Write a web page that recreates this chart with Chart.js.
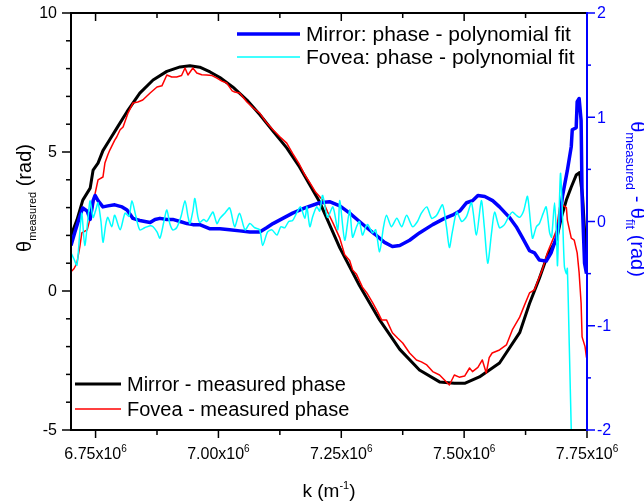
<!DOCTYPE html>
<html>
<head>
<meta charset="utf-8">
<script src="https://cdn.jsdelivr.net/npm/chart.js@4.4.0/dist/chart.umd.min.js"></script>
<style>
  html, body { margin: 0; padding: 0; background: #fff; }
  #wrap { width: 644px; height: 502px; position: relative; }
</style>
</head>
<body>
<div id="wrap"><canvas id="phaseChart" width="644" height="502"></canvas></div>
<script>
// k values in units of 10^6 m^-1
const kMirror = [6.700, 6.712, 6.724, 6.739, 6.745, 6.755, 6.765, 6.779, 6.793, 6.814, 6.840, 6.867, 6.895, 6.922, 6.942, 6.962, 6.983, 7.003, 7.029, 7.058, 7.084, 7.111, 7.139, 7.165, 7.206, 7.247, 7.287, 7.328, 7.369, 7.409, 7.450, 7.480, 7.501, 7.531, 7.572, 7.613, 7.633, 7.653, 7.670, 7.688, 7.698, 7.708, 7.718, 7.728, 7.735, 7.741, 7.745, 7.749];
const mirrorMeasured = [2.0, 2.55, 3.27, 3.7, 4.35, 4.6, 5.05, 5.45, 5.85, 6.45, 7.12, 7.59, 7.9, 8.06, 8.1, 8.05, 7.88, 7.68, 7.34, 6.87, 6.35, 5.75, 5.15, 4.46, 3.2, 1.55, 0.2, -1.04, -2.1, -2.84, -3.27, -3.32, -3.32, -3.09, -2.59, -1.5, -0.45, 0.45, 1.3, 1.85, 2.66, 3.27, 3.74, 4.17, 4.26, 3.4, 2.2, 1.0];

const kFovea = [6.700, 6.706, 6.712, 6.718, 6.722, 6.733, 6.743, 6.749, 6.755, 6.765, 6.769, 6.775, 6.779, 6.789, 6.793, 6.800, 6.806, 6.816, 6.826, 6.836, 6.846, 6.861, 6.875, 6.885, 6.895, 6.905, 6.915, 6.925, 6.932, 6.938, 6.948, 6.956, 6.966, 6.976, 6.987, 6.997, 7.007, 7.017, 7.028, 7.033, 7.043, 7.058, 7.070, 7.084, 7.098, 7.111, 7.125, 7.139, 7.151, 7.165, 7.175, 7.186, 7.198, 7.212, 7.222, 7.233, 7.247, 7.257, 7.267, 7.273, 7.281, 7.293, 7.302, 7.314, 7.324, 7.332, 7.342, 7.354, 7.365, 7.375, 7.389, 7.403, 7.413, 7.424, 7.436, 7.450, 7.460, 7.470, 7.480, 7.490, 7.501, 7.511, 7.517, 7.528, 7.537, 7.545, 7.551, 7.557, 7.572, 7.586, 7.598, 7.613, 7.623, 7.633, 7.643, 7.653, 7.659, 7.670, 7.680, 7.688, 7.694, 7.700, 7.708, 7.710, 7.718, 7.724, 7.730, 7.734, 7.738, 7.740, 7.746, 7.749];
const foveaMeasured = [0.69, 0.8, 1.0, 1.6, 2.09, 2.2, 2.9, 3.5, 4.0, 4.1, 4.6, 4.9, 5.07, 5.43, 5.54, 5.8, 5.9, 6.4, 6.76, 6.8, 6.87, 7.12, 7.34, 7.38, 7.77, 7.7, 7.7, 7.75, 8.02, 7.77, 8.02, 7.84, 7.78, 7.77, 7.75, 7.66, 7.55, 7.48, 7.2, 7.16, 7.12, 6.8, 6.6, 6.4, 6.05, 5.8, 5.55, 5.32, 4.95, 4.55, 4.2, 3.9, 3.55, 3.27, 2.85, 2.45, 1.9, 1.3, 1.1, 0.76, 0.6, 0.14, -0.07, -0.43, -0.75, -1.04, -1.04, -1.5, -1.7, -1.87, -2.23, -2.48, -2.55, -2.66, -2.9, -3.02, -3.2, -3.38, -3.02, -3.1, -3.06, -2.77, -2.9, -2.75, -2.48, -2.95, -2.4, -2.23, -2.12, -1.94, -1.4, -0.94, -0.5, -0.07, 0.04, 0.5, 0.76, 1.4, 1.83, 2.19, 3.0, 3.1, 3.0, 2.55, 1.9, 1.83, 1.37, 0.65, -0.43, -1.65, -2.0, -2.4];

const kMirrorFit = [6.700, 6.708, 6.718, 6.724, 6.733, 6.739, 6.745, 6.749, 6.755, 6.765, 6.775, 6.789, 6.804, 6.814, 6.826, 6.840, 6.861, 6.871, 6.881, 6.895, 6.907, 6.922, 6.936, 6.948, 6.962, 6.983, 7.003, 7.023, 7.043, 7.064, 7.084, 7.098, 7.111, 7.131, 7.151, 7.176, 7.206, 7.226, 7.247, 7.267, 7.287, 7.302, 7.318, 7.338, 7.354, 7.369, 7.389, 7.409, 7.436, 7.460, 7.476, 7.491, 7.505, 7.517, 7.528, 7.542, 7.558, 7.572, 7.592, 7.606, 7.618, 7.633, 7.643, 7.653, 7.667, 7.677, 7.688, 7.694, 7.700, 7.710, 7.718, 7.720, 7.728, 7.730, 7.734, 7.738, 7.740, 7.745, 7.749];
const mirrorResidual = [-0.23, -0.1, 0.05, 0.13, 0.1, 0.02, 0.2, 0.25, 0.2, 0.14, 0.15, 0.16, 0.14, 0.11, 0.03, 0.01, -0.01, 0.02, 0.03, 0.02, 0.02, 0.0, -0.02, -0.03, -0.03, -0.07, -0.07, -0.08, -0.09, -0.1, -0.1, -0.06, -0.02, 0.03, 0.08, 0.13, 0.18, 0.19, 0.15, 0.08, 0.0, -0.06, -0.12, -0.2, -0.24, -0.23, -0.18, -0.11, -0.03, 0.03, 0.06, 0.1, 0.18, 0.2, 0.25, 0.24, 0.2, 0.14, 0.04, -0.05, -0.15, -0.28, -0.3, -0.37, -0.38, -0.3, -0.15, 0.0, 0.24, 0.49, 0.72, 0.88, 0.9, 1.15, 1.18, 0.97, 0.24, -0.4, -0.5];

const kFoveaFit = [6.700, 6.706, 6.712, 6.718, 6.722, 6.728, 6.735, 6.739, 6.745, 6.751, 6.755, 6.761, 6.765, 6.771, 6.775, 6.783, 6.789, 6.800, 6.810, 6.818, 6.824, 6.832, 6.840, 6.850, 6.861, 6.867, 6.875, 6.881, 6.889, 6.895, 6.901, 6.907, 6.915, 6.924, 6.932, 6.938, 6.942, 6.948, 6.952, 6.958, 6.962, 6.970, 6.976, 6.983, 6.989, 6.997, 7.003, 7.013, 7.023, 7.033, 7.043, 7.054, 7.064, 7.074, 7.084, 7.090, 7.100, 7.109, 7.119, 7.127, 7.135, 7.143, 7.151, 7.159, 7.167, 7.176, 7.180, 7.186, 7.192, 7.200, 7.206, 7.212, 7.222, 7.233, 7.243, 7.247, 7.257, 7.267, 7.273, 7.281, 7.287, 7.293, 7.300, 7.304, 7.314, 7.320, 7.328, 7.336, 7.342, 7.352, 7.363, 7.373, 7.383, 7.395, 7.405, 7.413, 7.424, 7.434, 7.444, 7.456, 7.464, 7.470, 7.476, 7.485, 7.495, 7.505, 7.515, 7.525, 7.535, 7.541, 7.548, 7.556, 7.562, 7.572, 7.582, 7.590, 7.598, 7.606, 7.613, 7.621, 7.629, 7.639, 7.647, 7.653, 7.661, 7.667, 7.674, 7.678, 7.684, 7.688, 7.690, 7.696, 7.700, 7.704, 7.708, 7.710, 7.714, 7.718, 7.720];
const foveaResidual = [-0.3, -0.36, -0.42, -0.1, 0.08, -0.23, 0.05, 0.2, 0.04, 0.12, 0.18, 0.0, -0.2, -0.02, 0.04, -0.05, 0.06, -0.08, 0.08, 0.05, 0.2, 0.05, -0.08, -0.06, -0.04, -0.05, -0.1, -0.16, 0.0, 0.11, -0.02, -0.08, -0.06, 0.05, 0.2, 0.05, -0.02, 0.1, 0.22, 0.05, -0.01, 0.02, 0.0, 0.05, 0.09, -0.02, 0.03, 0.08, 0.13, -0.05, 0.08, -0.08, -0.02, -0.06, -0.08, -0.23, -0.1, -0.08, -0.13, -0.05, -0.06, 0.0, 0.01, 0.08, 0.14, 0.03, 0.14, -0.05, 0.05, 0.14, 0.1, 0.25, 0.04, 0.14, -0.08, 0.2, -0.18, 0.11, -0.15, -0.05, 0.0, -0.13, -0.05, -0.03, -0.11, -0.08, -0.29, -0.05, 0.06, -0.05, 0.03, -0.05, 0.06, -0.05, 0.0, 0.08, 0.14, 0.03, 0.06, 0.16, -0.05, -0.25, -0.1, 0.09, 0.0, 0.05, 0.18, -0.13, 0.2, -0.05, -0.4, -0.1, 0.09, -0.06, -0.03, 0.04, 0.09, 0.06, 0.04, 0.1, 0.24, -0.16, -0.05, -0.02, 0.08, 0.14, -0.11, -0.15, 0.18, -0.15, -0.42, 0.46, 0.08, -0.43, -0.5, -0.45, -1.2, -2.0, -2.3];

const xTicks = [6.75, 7.00, 7.25, 7.50, 7.75];
const xTickLabels = ['6.75x10', '7.00x10', '7.25x10', '7.50x10', '7.75x10'];
const xMinorTicks = [6.875, 7.125, 7.375, 7.625];
const leftTicks = [-5, 0, 5, 10];
const rightTicks = [-2, -1, 0, 1, 2];
const rightMinorTicks = [-1.5, -0.5, 0.5, 1.5];

const FONT = '"Liberation Sans", Arial, sans-serif';

function pts(xs, ys) {
  return xs.map((x, i) => ({ x: x, y: ys[i] }));
}

function richWidth(ctx, parts) {
  let w = 0;
  parts.forEach(p => { ctx.font = p.size + 'px ' + FONT; w += ctx.measureText(p.t).width; });
  return w;
}

// draws text pieces along local x, with dy shifts for sub/superscript
function drawRich(ctx, parts, x, y, align) {
  let w = richWidth(ctx, parts);
  let cx = align === 'center' ? x - w / 2 : (align === 'right' ? x - w : x);
  ctx.textAlign = 'left';
  ctx.textBaseline = 'alphabetic';
  parts.forEach(p => {
    ctx.font = p.size + 'px ' + FONT;
    ctx.fillText(p.t, cx, y + (p.dy || 0));
    cx += ctx.measureText(p.t).width;
  });
}

function seg(ctx, x1, y1, x2, y2) {
  ctx.beginPath(); ctx.moveTo(x1, y1); ctx.lineTo(x2, y2); ctx.stroke();
}

const originAxes = {
  id: 'originAxes',
  afterDraw(chart) {
    const ctx = chart.ctx, a = chart.chartArea;
    const sx = chart.scales.x, sy = chart.scales.y, sr = chart.scales.y2;
    ctx.save();
    ctx.lineCap = 'butt';

    // black frame: left, bottom, top
    ctx.strokeStyle = '#000'; ctx.lineWidth = 2;
    seg(ctx, a.left, a.top - 1, a.left, a.bottom + 1);
    seg(ctx, a.left - 1, a.bottom, a.right, a.bottom);
    seg(ctx, a.left - 1, a.top, a.right, a.top);

    ctx.lineWidth = 1.5;
    leftTicks.forEach(v => { const y = sy.getPixelForValue(v); seg(ctx, a.left - 9, y, a.left, y); });
    for (let v = -4; v < 10; v++) {
      if (v % 5 === 0) continue;
      const y = sy.getPixelForValue(v); seg(ctx, a.left - 5, y, a.left, y);
    }
    xTicks.forEach(v => {
      const x = sx.getPixelForValue(v);
      seg(ctx, x, a.bottom, x, a.bottom + 8);
      seg(ctx, x, a.top, x, a.top + 8);
    });
    xMinorTicks.forEach(v => {
      const x = sx.getPixelForValue(v);
      seg(ctx, x, a.bottom, x, a.bottom + 5);
      seg(ctx, x, a.top, x, a.top + 5);
    });

    // left tick labels
    ctx.fillStyle = '#000';
    ctx.font = '16px ' + FONT;
    ctx.textAlign = 'right'; ctx.textBaseline = 'middle';
    leftTicks.forEach(v => ctx.fillText(String(v), a.left - 14, sy.getPixelForValue(v) + 1));

    // x tick labels with superscript exponent
    xTicks.forEach((v, i) => {
      drawRich(ctx, [{ t: xTickLabels[i], size: 16 }, { t: '6', size: 10, dy: -7 }],
        sx.getPixelForValue(v), a.bottom + 29, 'center');
    });

    // right axis in blue
    ctx.strokeStyle = '#0000ff'; ctx.fillStyle = '#0000ff';
    ctx.lineWidth = 2;
    seg(ctx, a.right, a.top - 1, a.right, a.bottom + 1);
    ctx.lineWidth = 1.5;
    rightTicks.forEach(v => { const y = sr.getPixelForValue(v); seg(ctx, a.right, y, a.right + 8, y); });
    rightMinorTicks.forEach(v => { const y = sr.getPixelForValue(v); seg(ctx, a.right, y, a.right + 4, y); });
    ctx.font = '16px ' + FONT;
    ctx.textAlign = 'left'; ctx.textBaseline = 'middle';
    rightTicks.forEach(v => ctx.fillText(String(v), a.right + 10, sr.getPixelForValue(v) + 1));

    // right axis title, rotated clockwise
    ctx.save();
    ctx.translate(631, 199);
    ctx.rotate(Math.PI / 2);
    drawRich(ctx, [
      { t: '\u03b8', size: 20 }, { t: 'measured', size: 13, dy: 5 },
      { t: ' - \u03b8', size: 20 }, { t: 'fit', size: 13, dy: 5 },
      { t: ' (rad)', size: 20 }
    ], 0, 0, 'center');
    ctx.restore();

    // left axis title
    ctx.fillStyle = '#000';
    ctx.save();
    ctx.translate(31, 198);
    ctx.rotate(-Math.PI / 2);
    drawRich(ctx, [
      { t: '\u03b8', size: 20 }, { t: 'measured', size: 11, dy: 5 }, { t: ' (rad)', size: 20 }
    ], 0, 0, 'center');
    ctx.restore();

    // x axis title
    drawRich(ctx, [{ t: 'k (m', size: 19 }, { t: '-1', size: 11, dy: -8 }, { t: ')', size: 19 }],
      329, 497, 'center');

    // legends
    const legTop = [
      { label: 'Mirror: phase - polynomial fit', color: '#0000ff', w: 3.5, y: 34 },
      { label: 'Fovea: phase - polynomial fit', color: '#00ffff', w: 1.5, y: 57 }
    ];
    const legBottom = [
      { label: 'Mirror - measured phase', color: '#000000', w: 3, y: 384 },
      { label: 'Fovea - measured phase', color: '#ff0000', w: 1.5, y: 409 }
    ];
    function drawLegend(items, x0, x1, tx, size) {
      items.forEach(it => {
        ctx.strokeStyle = it.color; ctx.lineWidth = it.w;
        seg(ctx, x0, it.y, x1, it.y);
        ctx.fillStyle = '#000';
        ctx.font = size + 'px ' + FONT;
        ctx.textAlign = 'left'; ctx.textBaseline = 'middle';
        ctx.fillText(it.label, tx, it.y + 1);
      });
    }
    drawLegend(legTop, 237, 300, 306, 21);
    drawLegend(legBottom, 75, 121, 127, 20);

    ctx.restore();
  }
};

const chart = new Chart(document.getElementById('phaseChart'), {
  type: 'line',
  data: {
    datasets: [
      { label: 'Mirror - measured phase', data: pts(kMirror, mirrorMeasured), yAxisID: 'y',
        borderColor: '#000000', borderWidth: 3, order: 4 },
      { label: 'Fovea - measured phase', data: pts(kFovea, foveaMeasured), yAxisID: 'y',
        borderColor: '#ff0000', borderWidth: 1.5, order: 3 },
      { label: 'Mirror: phase - polynomial fit', data: pts(kMirrorFit, mirrorResidual), yAxisID: 'y2',
        borderColor: '#0000ff', borderWidth: 3.5, order: 2 },
      { label: 'Fovea: phase - polynomial fit', data: pts(kFoveaFit, foveaResidual), yAxisID: 'y2',
        borderColor: '#00ffff', borderWidth: 1.5, order: 1, tension: 0.25 }
    ]
  },
  options: {
    responsive: false,
    animation: false,
    layout: { padding: { left: 71, top: 13, right: 57, bottom: 72 } },
    elements: { point: { radius: 0 }, line: { tension: 0, borderJoinStyle: 'round' } },
    plugins: { legend: { display: false }, tooltip: { enabled: false } },
    scales: {
      x: { type: 'linear', min: 6.70, max: 7.75, display: false },
      y: { type: 'linear', min: -5, max: 10, display: false },
      y2: { type: 'linear', position: 'right', min: -2, max: 2, display: false }
    }
  },
  plugins: [originAxes]
});
</script>
</body>
</html>
